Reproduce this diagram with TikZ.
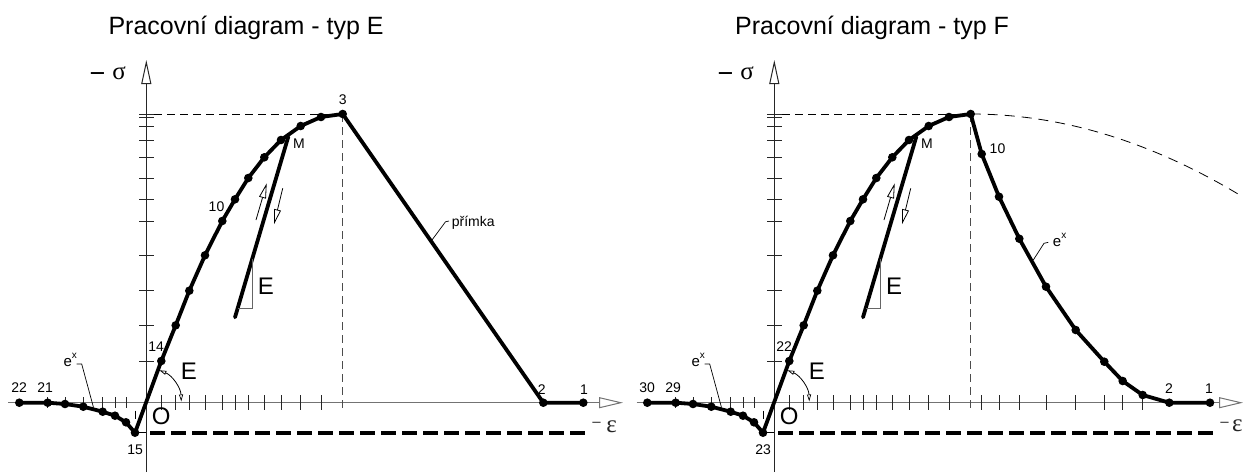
\documentclass[tikz,border=0pt]{standalone}
\usepackage{fontspec}
\setmainfont{Liberation Sans}
\newfontfamily\grk{Liberation Serif}
\usetikzlibrary{arrows.meta}
\tikzset{
  curve/.style={line width=3.8pt, line join=round, line cap=round},
  tickmark/.style={line width=1pt, black!85},
  haxis/.style={line width=1.2pt, black!55, -{Triangle[open, length=24pt, width=11pt, line width=1pt]}},
  vaxis/.style={line width=1.1pt, black!85, -{Triangle[open, length=24pt, width=10pt, line width=1pt]}},
  thindash/.style={line width=0.8pt, dash pattern=on 8pt off 5pt},
  thickdash/.style={line width=4pt, dash pattern=on 15pt off 6pt},
  lbl/.style={font=\fontsize{14}{14}\selectfont, inner sep=0pt},
  biglbl/.style={font=\fontsize{24}{24}\selectfont, inner sep=0pt},
  titlelbl/.style={font=\fontsize{25}{25}\selectfont, inner sep=0pt, anchor=base west},
  exlbl/.style={font=\fontsize{15}{15}\selectfont, inner sep=0pt, anchor=base west},
  leader/.style={line width=0.7pt},
  smallarrow/.style={line width=0.8pt, -{Triangle[open, length=15pt, width=7pt, line width=0.8pt]}},
  anglearrow/.style={line width=0.8pt, {Triangle[open,length=7pt,width=4pt,line width=0.7pt]}-{Triangle[open,length=7pt,width=4pt,line width=0.7pt]}},
  minuslbl/.style={font=\fontsize{27}{27}\selectfont, inner sep=0pt, anchor=base},
  greeklbl/.style={font=\grk\fontsize{25}{25}\selectfont, inner sep=0pt, anchor=base},
}
\newcommand{\exlabel}{e\raisebox{8pt}{\fontsize{10}{10}\selectfont x}}
% #1 prefix, #2 label at p14, #3 label at p15, #4 label at p22, #5 label at p21
\newcommand{\diagbase}[5]{%
  \coordinate (#1vb) at (146.3,472);
  \coordinate (#1vt) at (146.3,60);
  \draw[vaxis] (#1vb) -- (#1vt);
  \foreach \yy in {114,117,126,140,157.3,178,199.3,221,255.3,290.7,325.3,361}
    \draw[tickmark] (139.3,\yy) -- (154,\yy);
  \foreach \xx in {161.3,175.7,189.3,205,222.3,235,248.3,264.3,281,300.7,321}
    \draw[tickmark] (\xx,395) -- (\xx,410);
  \foreach \xx in {47.7,65,83.3,102.7,115,126}
    \draw[tickmark] (\xx,397) -- (\xx,408);
  \coordinate (#1p22) at (19.3,402.7);
  \coordinate (#1p21) at (47.7,402.7);
  \coordinate (#1p20) at (65,404);
  \coordinate (#1p19) at (83.3,406.7);
  \coordinate (#1p18) at (102.7,411.7);
  \coordinate (#1p17) at (115,415.7);
  \coordinate (#1p16) at (126,422.3);
  \coordinate (#1p15) at (135,432.7);
  \coordinate (#1p14) at (161.3,361);
  \coordinate (#1p13) at (175.7,325.3);
  \coordinate (#1p12) at (189.3,290.7);
  \coordinate (#1p11) at (205,255.3);
  \coordinate (#1p10) at (222.3,221);
  \coordinate (#1p9) at (235,199.3);
  \coordinate (#1p8) at (248.3,178);
  \coordinate (#1p7) at (264.3,157.3);
  \coordinate (#1p6) at (281,140);
  \coordinate (#1p5) at (300.7,126);
  \coordinate (#1p4) at (321,117);
  \coordinate (#1p3) at (342.7,114);
  \coordinate (#1hd) at (154,114);
  \coordinate (#1vd) at (342.7,410);
  \coordinate (#1ax15) at (146.3,432.7);
  \coordinate (#1d0) at (150,432.7);
  \coordinate (#1d1) at (586,432.7);
  \coordinate (#1a15) at (135,402.7);
  \draw[thindash] (#1hd) -- (#1p3);
  \draw[thindash, black!70] (#1p3) -- (#1vd);
  \draw[line width=0.7pt, dash pattern=on 8pt off 8pt, dash phase=8pt] (#1a15) -- (#1p15);
  \draw[line width=0.7pt] (#1p15) -- (#1ax15);
  \draw[thickdash] (#1d0) -- (#1d1);
  \draw[curve] (#1p22) -- (#1p21) -- (#1p20) -- (#1p19) -- (#1p18) -- (#1p17) -- (#1p16) -- (#1p15)
     -- (#1p14) -- (#1p13) -- (#1p12) -- (#1p11) -- (#1p10) -- (#1p9) -- (#1p8) -- (#1p7)
     -- (#1p6) -- (#1p5) -- (#1p4) -- (#1p3);
  \foreach \n in {3,...,22} \fill (#1p\n) circle (4.3pt);
  \coordinate (#1m) at (288.3,136.7);
  \coordinate (#1u) at (235,317.3);
  \draw[curve] (#1m) -- (#1u);
  \coordinate (#1ta) at (252.3,258.7);
  \coordinate (#1tb) at (252.3,308.3);
  \coordinate (#1tc) at (238,308.3);
  \draw[line width=0.8pt, black!60] (#1ta) -- (#1tb) -- (#1tc);
  \node[biglbl] (#1E1) at (266,286) {E};
  \coordinate (#1ua) at (256,220);
  \coordinate (#1ub) at (266.7,183.3);
  \coordinate (#1da) at (282.7,188.3);
  \coordinate (#1db) at (274,224.3);
  \draw[smallarrow] (#1ua) -- (#1ub);
  \draw[smallarrow] (#1da) -- (#1db);
  \coordinate (#1as) at (159.4,370.25);
  \draw[anglearrow] (#1as) arc[start angle=68, end angle=2, radius=35pt];
  \node[biglbl] (#1E2) at (188.8,371.7) {E};
  \node[biglbl] (#1O) at (161.3,416.2) {O};
  \node[lbl] (#1M) at (299,144) {M};
  \node[lbl] (#1l14) at (156.2,347) {#2};
  \node[lbl] (#1l15) at (135.2,450) {#3};
  \node[lbl] (#1l22) at (19.2,387.5) {#4};
  \node[lbl] (#1l21) at (45.2,387.5) {#5};
  \node[exlbl] (#1ex) at (63.3,366.7) {\exlabel};
  \coordinate (#1ex1) at (76.5,364);
  \coordinate (#1ex2) at (81.7,364);
  \coordinate (#1ex3) at (93.5,407.5);
  \draw[leader] (#1ex1) -- (#1ex2) -- (#1ex3);
  \node[minuslbl] (#1ms) at (97.5,82) {−};
  \node[greeklbl] (#1sig) at (119,79.5) {σ};
  \node[minuslbl, font=\fontsize{17}{17}\selectfont, text=black!70] (#1me) at (596.7,428) {−};
}
\begin{document}
\begin{tikzpicture}[x=1pt, y=-1pt]
\useasboundingbox (0,0) rectangle (1243,472);
% titles
\node[titlelbl] (t1) at (108.3,34) {Pracovní diagram - typ E};
\node[titlelbl] (t2) at (735,34) {Pracovní diagram - typ F};
% ---------- left diagram (type E)
\coordinate (Ah0) at (8,402.7);
\coordinate (Ah1) at (623,402.7);
\draw[haxis] (Ah0) -- (Ah1);
\diagbase{A}{14}{15}{22}{21}
\coordinate (Ap2) at (543.3,402.7);
\coordinate (Ap1) at (583.3,402.7);
\draw[curve] (Ap3) -- (Ap2) -- (Ap1);
\fill (Ap2) circle (4.3pt);
\fill (Ap1) circle (4.3pt);
\node[lbl] (Al3) at (342.7,100) {3};
\node[lbl] (Al10) at (216.5,207) {10};
\node[lbl] (Al2) at (541.7,390) {2};
\node[lbl] (Al1) at (584,389.3) {1};
\node[font=\fontsize{14}{14}\selectfont, inner sep=0pt, anchor=base west] (Apr) at (451.7,226.7) {přímka};
\coordinate (Apr1) at (449,221);
\coordinate (Apr2) at (445.5,221.8);
\coordinate (Apr3) at (432,240);
\draw[leader] (Apr1) -- (Apr2) -- (Apr3);
\node[greeklbl, text=black!85] (Aeps) at (611.7,432) {ε};
% ---------- right diagram (type F)
\coordinate (Bh0) at (636.7,402.7);
\coordinate (Bh1) at (1243,402.7);
\draw[haxis] (Bh0) -- (Bh1);
\begin{scope}[xshift=628pt]
\diagbase{B}{22}{23}{30}{29}
\end{scope}
\foreach \xx in {981.7,999,1019.3,1046,1075.7,1104.3,1122.7,1142.7}
  \draw[tickmark] (\xx,395) -- (\xx,410);
\coordinate (Bq10) at (981.7,154);
\coordinate (Bq9) at (999,196.7);
\coordinate (Bq8) at (1019.3,238.7);
\coordinate (Bq7) at (1046,286.7);
\coordinate (Bq6) at (1075.7,330);
\coordinate (Bq5) at (1104.3,361.7);
\coordinate (Bq4) at (1122.7,381);
\coordinate (Bq3) at (1142.7,395);
\coordinate (Bq2) at (1169.3,402.7);
\coordinate (Bq1) at (1210,402.7);
\coordinate (Bce) at (1243,197);
\draw[line width=0.8pt, dash pattern=on 10pt off 7pt] (Bp3) .. controls (1061.5,114) and (1152.2,141.7) .. (Bce);
\draw[curve] (Bp3) -- (Bq10) -- (Bq9) -- (Bq8) -- (Bq7) -- (Bq6) -- (Bq5) -- (Bq4) -- (Bq3) -- (Bq2) -- (Bq1);
\foreach \n in {1,...,10} \fill (Bq\n) circle (4.3pt);
\node[lbl] (Bl10) at (997.5,148.3) {10};
\node[lbl] (Bl2) at (1169,388.3) {2};
\node[lbl] (Bl1) at (1209,388.3) {1};
\node[exlbl] (Bex) at (1052.7,246.7) {\exlabel};
\coordinate (Bexa) at (1048.3,242.3);
\coordinate (Bexb) at (1044,243.3);
\coordinate (Bexc) at (1033.3,260);
\draw[leader] (Bexa) -- (Bexb) -- (Bexc);
\node[greeklbl, text=black!85] (Beps) at (1237.3,431) {ε};
\end{tikzpicture}
\end{document}
